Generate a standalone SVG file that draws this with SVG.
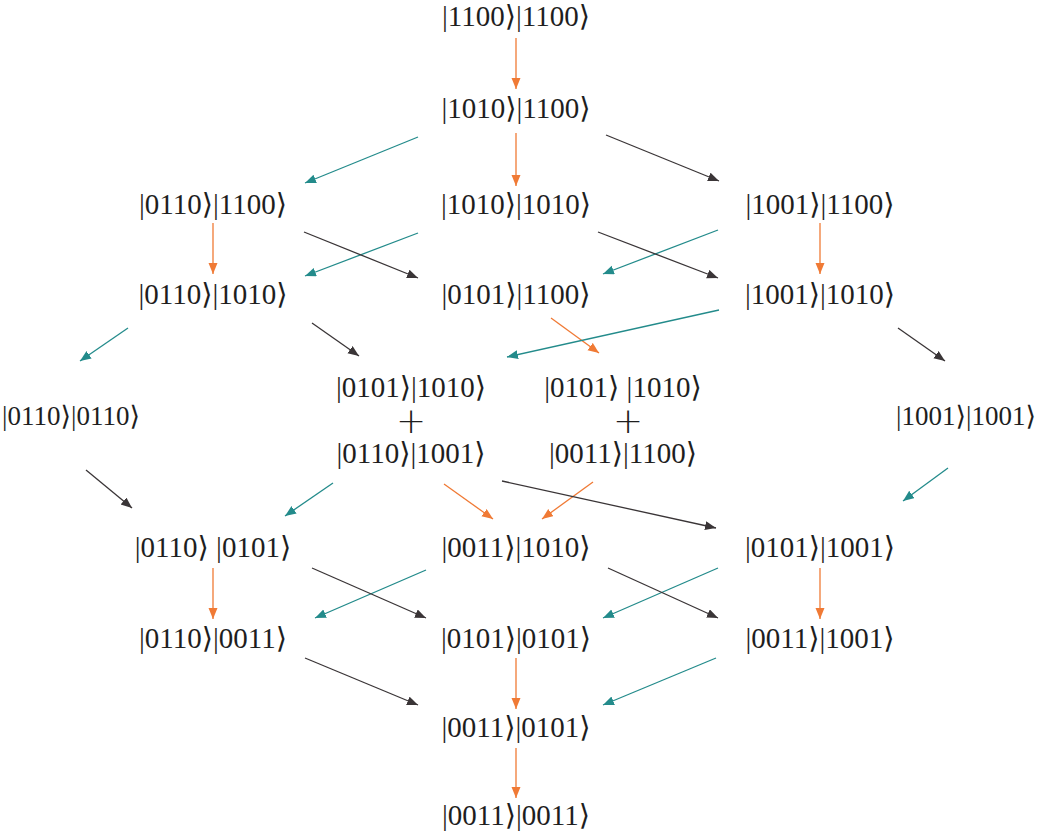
<svg xmlns="http://www.w3.org/2000/svg" width="1044" height="832" viewBox="0 0 1044 832">
<style>
text{font-family:"Liberation Serif","DejaVu Serif",serif;font-size:29px;fill:#1e1e1e;text-anchor:middle}
text.s{font-size:27px}
text.p{font-size:36px;font-family:"DejaVu Sans",sans-serif;font-weight:200}
.o{stroke:#f07a35;stroke-width:1.3;fill:none;marker-end:url(#ao)}
.t{stroke:#238b8b;stroke-width:1.3;fill:none;marker-end:url(#at)}
.k{stroke:#3a3537;stroke-width:1.3;fill:none;marker-end:url(#ak)}
</style>
<defs>
<marker id="ao" markerUnits="userSpaceOnUse" markerWidth="12" markerHeight="10" refX="11" refY="4.5" orient="auto"><path d="M0,0L11,4.5L0,9z" fill="#f07a35"/></marker>
<marker id="at" markerUnits="userSpaceOnUse" markerWidth="12" markerHeight="10" refX="11" refY="4.5" orient="auto"><path d="M0,0L11,4.5L0,9z" fill="#238b8b"/></marker>
<marker id="ak" markerUnits="userSpaceOnUse" markerWidth="12" markerHeight="10" refX="11" refY="4.5" orient="auto"><path d="M0,0L11,4.5L0,9z" fill="#3a3537"/></marker>
</defs>
<rect width="1044" height="832" fill="#fff"/>
<g id="connectors">
<line class="o" x1="516" y1="38" x2="516" y2="89"/>
<line class="o" x1="516" y1="133" x2="516" y2="186"/>
<line class="o" x1="213" y1="223" x2="213" y2="274"/>
<line class="o" x1="820" y1="223" x2="820" y2="274"/>
<line class="o" x1="551" y1="318" x2="599" y2="353"/>
<line class="o" x1="444" y1="484" x2="493" y2="519"/>
<line class="o" x1="593" y1="482" x2="542" y2="519"/>
<line class="o" x1="213" y1="568" x2="213" y2="619"/>
<line class="o" x1="820" y1="568" x2="820" y2="619"/>
<line class="o" x1="516" y1="658" x2="516" y2="709"/>
<line class="o" x1="516" y1="748" x2="516" y2="798"/>
<line class="t" x1="418" y1="137" x2="305" y2="183"/>
<line class="t" x1="418" y1="233" x2="305" y2="276"/>
<line class="t" x1="718" y1="230" x2="603" y2="274"/>
<line class="t" x1="719" y1="310" x2="507" y2="357"/>
<line class="t" x1="128" y1="328" x2="80" y2="361"/>
<line class="t" x1="948" y1="468" x2="903" y2="501"/>
<line class="t" x1="333" y1="483" x2="285" y2="516"/>
<line class="t" x1="426" y1="570" x2="315" y2="618"/>
<line class="t" x1="718" y1="568" x2="603" y2="618"/>
<line class="t" x1="716" y1="658" x2="603" y2="705"/>
<line class="k" x1="606" y1="135" x2="719" y2="181"/>
<line class="k" x1="304" y1="232" x2="418" y2="278"/>
<line class="k" x1="598" y1="232" x2="718" y2="278"/>
<line class="k" x1="312" y1="323" x2="359" y2="356"/>
<line class="k" x1="898" y1="328" x2="945" y2="361"/>
<line class="k" x1="86" y1="470" x2="132" y2="508"/>
<line class="k" x1="502" y1="481" x2="716" y2="528"/>
<line class="k" x1="312" y1="568" x2="426" y2="618"/>
<line class="k" x1="608" y1="568" x2="718" y2="618"/>
<line class="k" x1="305" y1="658" x2="418" y2="705"/>
</g>
<g id="n1"><text x="516" y="26">|1100⟩|1100⟩</text></g>
<g id="n2"><text x="516" y="118">|1010⟩|1100⟩</text></g>
<g id="n3"><text x="213" y="214">|0110⟩|1100⟩</text></g>
<g id="n4"><text x="516" y="214">|1010⟩|1010⟩</text></g>
<g id="n5"><text x="820" y="214">|1001⟩|1100⟩</text></g>
<g id="n6"><text x="213" y="304">|0110⟩|1010⟩</text></g>
<g id="n7"><text x="516" y="304">|0101⟩|1100⟩</text></g>
<g id="n8"><text x="820" y="304">|1001⟩|1010⟩</text></g>
<g id="n9"><text class="s" x="71" y="425">|0110⟩|0110⟩</text></g>
<g id="n10"><text x="411" y="397">|0101⟩|1010⟩</text><text class="p" x="411" y="433">+</text><text x="411" y="463">|0110⟩|1001⟩</text></g>
<g id="n11"><text x="623" y="397">|0101⟩ |1010⟩</text><text class="p" x="628" y="433">+</text><text x="623" y="463">|0011⟩|1100⟩</text></g>
<g id="n12"><text class="s" x="966" y="425">|1001⟩|1001⟩</text></g>
<g id="n13"><text x="213" y="557">|0110⟩ |0101⟩</text></g>
<g id="n14"><text x="516" y="557">|0011⟩|1010⟩</text></g>
<g id="n15"><text x="820" y="557">|0101⟩|1001⟩</text></g>
<g id="n16"><text x="213" y="648">|0110⟩|0011⟩</text></g>
<g id="n17"><text x="516" y="648">|0101⟩|0101⟩</text></g>
<g id="n18"><text x="820" y="648">|0011⟩|1001⟩</text></g>
<g id="n19"><text x="516" y="737">|0011⟩|0101⟩</text></g>
<g id="n20"><text x="516" y="825">|0011⟩|0011⟩</text></g>
</svg>
